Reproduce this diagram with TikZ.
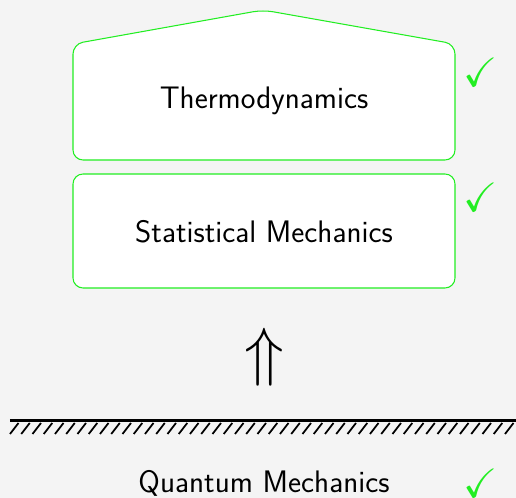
\documentclass[tikz,border=0pt]{standalone}
\usepackage{amsmath,amssymb}
\usepackage{tikz}
\usetikzlibrary{positioning}
\definecolor{bggray}{HTML}{F4F4F4}
\definecolor{okgreen}{HTML}{22EE22}

\begin{document}
\begin{tikzpicture}[font=\sffamily\fontsize{17.7}{20}\selectfont,
    layer/.style={draw=okgreen, fill=white, line width=0.6pt, rounded corners=0.2cm},
    tick/.style={text=okgreen, font=\fontsize{17.3}{20}\selectfont, scale=1.35, transform shape},
    hatch/.style={line width=1pt}]
  % background
  \fill[bggray] (0,0) rectangle (10.32,9.96);
  \useasboundingbox (0,0) rectangle (10.32,9.96);
  % top layer with roof
  \draw[layer] (1.46,6.76) -- (1.46,9.08) -- (5.26,9.76) -- (9.10,9.08) -- (9.10,6.76) -- cycle;
  \node (thermo) at (5.28,7.94) {Thermodynamics};
  % middle layer
  \draw[layer] (1.46,4.20) rectangle (9.10,6.48);
  \node (stat) at (5.28,5.32) {Statistical Mechanics};
  % checks
  \node[tick] (chkthermo) at (9.62,8.52) {$\checkmark$};
  \node[tick] (chkstat) at (9.62,6.02) {$\checkmark$};
  % implication arrow
  \node[font=\fontsize{17.3}{20}\selectfont, scale=2.15, transform shape] (up) at (5.28,2.82) {$\Uparrow$};
  % ground with hatching
  \draw[line width=1.7pt] (0.2,1.54) -- (10.32,1.54);
  \foreach \x in {0.2,0.425,...,10.3}
    \draw[hatch] (\x,1.28) -- (\x+0.17,1.50);
  % foundation
  \node (qm) at (5.28,0.30) {Quantum Mechanics};
  \node[tick] (chkqm) at (9.62,0.30) {$\checkmark$};
\end{tikzpicture}
\end{document}
